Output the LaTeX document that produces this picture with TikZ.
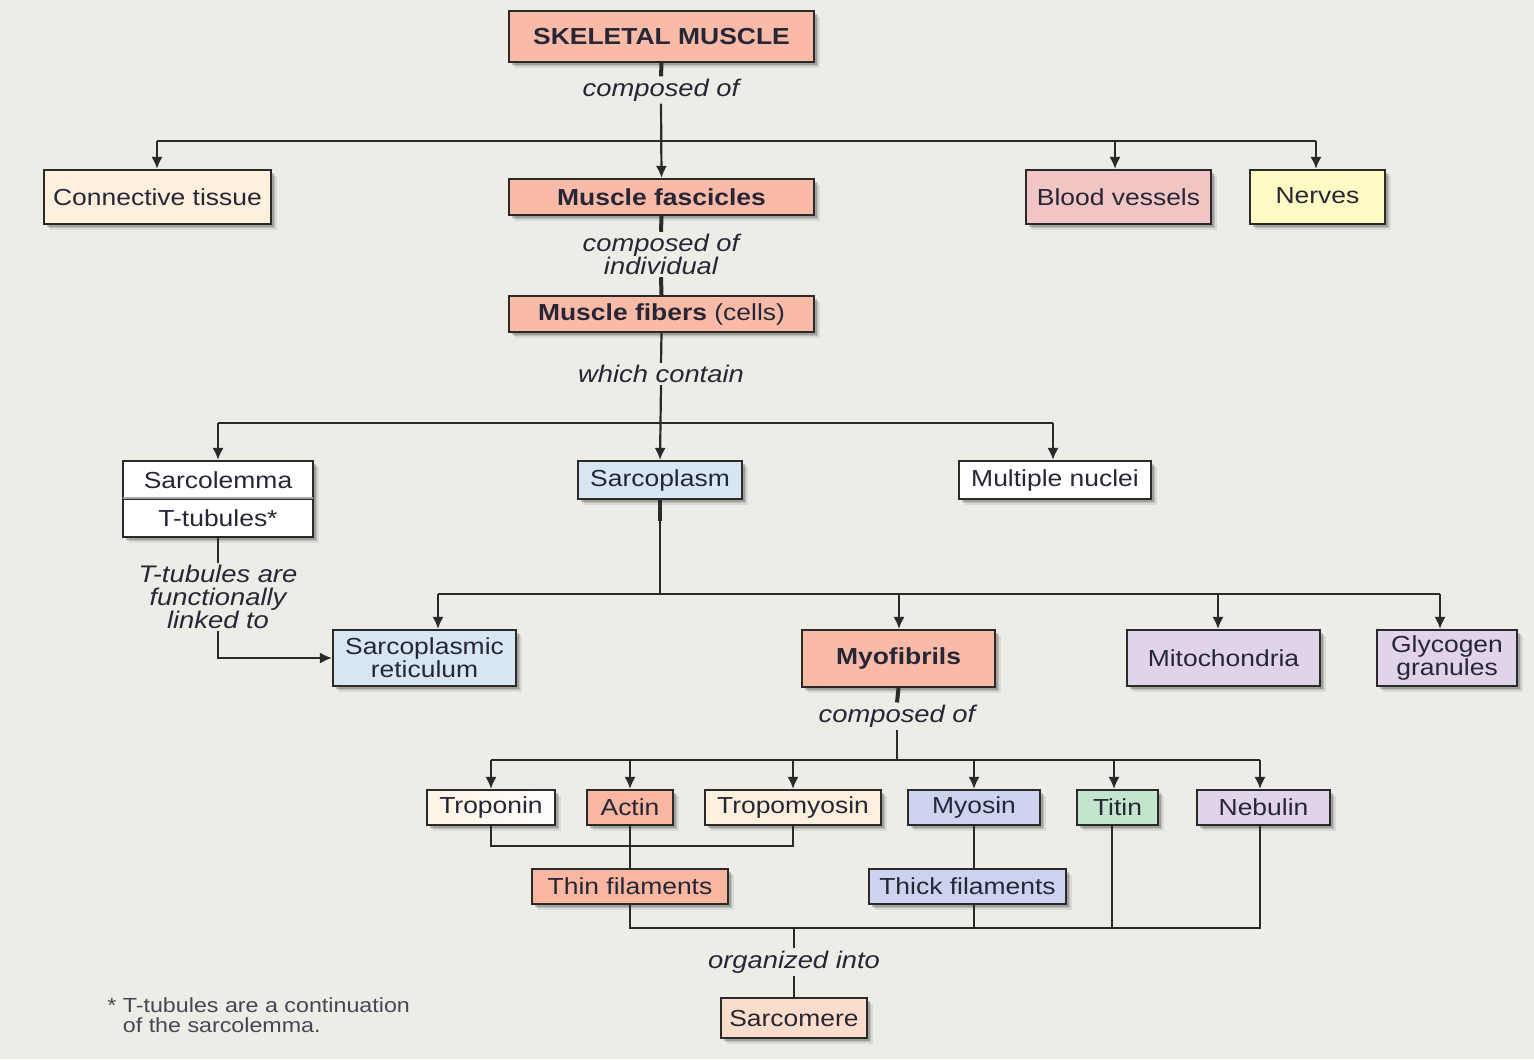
\documentclass[tikz,border=0pt]{standalone}
\usepackage{fontspec}
\setmainfont{Liberation Sans}[FakeStretch=1.14]
\usetikzlibrary{arrows.meta,shadows}
\definecolor{bg}{HTML}{EDECE7}
\definecolor{ink}{HTML}{262636}
\definecolor{edge}{HTML}{2A2A2A}
\definecolor{salmon}{HTML}{F9BBA8}
\definecolor{actinc}{HTML}{F9B6A0}
\definecolor{cream}{HTML}{FDF0DC}
\definecolor{pinkc}{HTML}{F0C5C4}
\definecolor{yellowc}{HTML}{FEFAC4}
\definecolor{bluec}{HTML}{D6E7F1}
\definecolor{lavc}{HTML}{E1D3E8}
\definecolor{peric}{HTML}{CDD3EE}
\definecolor{mintc}{HTML}{C3E5CD}
\definecolor{peachc}{HTML}{FBDDCC}
\begin{document}
\begin{tikzpicture}[x=0.5pt,y=-0.5pt,
  font=\fontsize{11.6}{11.6}\selectfont,
  box/.style={draw=edge, line width=1.1pt, inner sep=0pt, align=center, text=ink,
    drop shadow={shadow xshift=3pt, shadow yshift=-3pt, opacity=0.08, fill=black},
    drop shadow={shadow xshift=2.2pt, shadow yshift=-2.2pt, opacity=0.12, fill=black},
    drop shadow={shadow xshift=1.4pt, shadow yshift=-1.4pt, opacity=0.16, fill=black}},
  lab/.style={font=\fontsize{12}{11.5}\selectfont\itshape, inner sep=1pt, align=center, text=ink},
  conn/.style={draw=edge, line width=1.1pt},
  stub/.style={draw=edge, line width=2pt},
  arr/.style={-{Latex[length=6pt,width=5.6pt]}}]
\useasboundingbox (0,0) rectangle (1534,1059);
\fill[bg] (0,0) rectangle (1534,1059);

% top level
\node[box,fill=salmon,minimum width=152.5pt,minimum height=25.5pt] (sk) at (661.5,36.5) {\bfseries SKELETAL MUSCLE};
\node[lab] (l1) at (661,90) {composed of};
\node[box,fill=cream,minimum width=113.5pt,minimum height=27pt] (ct) at (157.5,197) {Connective tissue};
\node[box,fill=salmon,minimum width=152.5pt,minimum height=18pt] (mf) at (661.5,197) {\bfseries Muscle fascicles};
\node[box,fill=pinkc,minimum width=92.5pt,minimum height=27pt] (bv) at (1118.5,197) {Blood vessels};
\node[box,fill=yellowc,minimum width=67.5pt,minimum height=27pt] (nv) at (1317.5,197) {\raisebox{1.5pt}{Nerves}};
\node[lab] (l2) at (661,254.5) {composed of\\individual};
\node[box,fill=salmon,minimum width=152.5pt,minimum height=18pt] (fib) at (661.5,314) {{\bfseries Muscle fibers} (cells)};
\node[lab] (l3) at (661,374) {which contain};

% contents of a fiber
\node[box,fill=white,minimum width=95pt,minimum height=19pt] (sl) at (218,480) {Sarcolemma};
\node[box,fill=white,minimum width=95pt,minimum height=19pt] (tt) at (218,518) {T-tubules*};
\draw[gray!70, line width=1pt] ([xshift=0.55pt]tt.north west) -- ([xshift=-0.55pt]tt.north east);
\node[box,fill=bluec,minimum width=82pt,minimum height=19pt] (sp) at (660,480) {Sarcoplasm};
\node[box,fill=white,minimum width=96pt,minimum height=19pt] (mn) at (1055,480) {Multiple nuclei};
\node[lab] (l4) at (218,597) {T-tubules are\\functionally\\linked to};

\node[box,fill=bluec,minimum width=91.5pt,minimum height=28pt] (sr) at (424.5,658) {Sarcoplasmic\\reticulum};
\node[box,fill=salmon,minimum width=96.5pt,minimum height=28.5pt] (myo) at (898.5,658.5) {\bfseries Myofibrils};
\node[box,fill=lavc,minimum width=96.5pt,minimum height=28pt] (mit) at (1223.5,658) {Mitochondria};
\node[box,fill=lavc,minimum width=70pt,minimum height=28pt] (gly) at (1447,658) {Glycogen\\granules};
\node[lab] (l5) at (897,716) {composed of};

% proteins and filaments
\node[box,left color=cream!80,right color=white,minimum width=64pt,minimum height=17.5pt] (trn) at (491,807.5) {Troponin};
\node[box,fill=actinc,minimum width=43pt,minimum height=17.5pt] (act) at (630,807.5) {Actin};
\node[box,fill=cream,minimum width=88pt,minimum height=17.5pt] (tpm) at (793,807.5) {Tropomyosin};
\node[box,fill=peric,minimum width=66pt,minimum height=17.5pt] (mys) at (974,807.5) {Myosin};
\node[box,fill=mintc,minimum width=40.5pt,minimum height=17.5pt] (tit) at (1117.5,807.5) {Titin};
\node[box,fill=lavc,minimum width=66.5pt,minimum height=17.5pt] (neb) at (1263.5,807.5) {Nebulin};
\node[box,fill=actinc,minimum width=98pt,minimum height=17.5pt] (thin) at (630,886.5) {Thin filaments};
\node[box,fill=peric,minimum width=98.5pt,minimum height=17.5pt] (thick) at (967.5,886.5) {Thick filaments};
\node[lab] (l6) at (794,962) {organized into};
\node[box,fill=peachc,minimum width=73pt,minimum height=20pt] (sarc) at (794,1018) {Sarcomere};

\node[anchor=west, inner sep=0pt, align=left, text=ink!85, font=\fontsize{10.2}{10}\selectfont] (fn) at (107,1015)
  {* T-tubules are a continuation\\\hphantom{*\ }of the sarcolemma.};

% connectors
\coordinate (b1) at (661,141);
\coordinate (b2) at (661,423);
\coordinate (b3) at (661,594);
\coordinate (b4) at (897,760);
\coordinate (j1) at (0,846);
\coordinate (b5) at (794,928);

\draw[stub] (sk.south) -- (l1.north);
\draw[conn,arr] (l1.south) -- (mf.north);
\draw[conn] ([xshift=-0.25pt]ct.north |- b1) -- ([xshift=-0.75pt]nv.north |- b1);
\draw[conn,arr] ([xshift=-0.25pt]ct.north |- b1) -- ([xshift=-0.25pt]ct.north);
\draw[conn,arr] ([xshift=-1.75pt]bv.north |- b1) -- ([xshift=-1.75pt]bv.north);
\draw[conn,arr] ([xshift=-0.75pt]nv.north |- b1) -- ([xshift=-0.75pt]nv.north);

\draw[stub] (mf.south) -- (l2.north);
\draw[stub] (l2.south) -- (fib.north);
\draw[conn] (fib.south) -- (l3.north);
\draw[conn,arr] (l3.south) -- (sp.north);
\draw[conn] (sl.north |- b2) -- ([xshift=-1pt]mn.north |- b2);
\draw[conn,arr] (sl.north |- b2) -- (sl.north);
\draw[conn,arr] ([xshift=-1pt]mn.north |- b2) -- ([xshift=-1pt]mn.north);

\draw[conn] (tt.south) -- (l4.north);
\draw[conn,arr] (l4.south) |- (sr.west);

\draw[stub] (sp.south) -- ++(0,21);
\draw[conn] (sp.south) -- (sp.south |- b3);
\draw[conn] ([xshift=6.75pt]sr.north |- b3) -- ([xshift=-3.5pt]gly.north |- b3);
\draw[conn,arr] ([xshift=6.75pt]sr.north |- b3) -- ([xshift=6.75pt]sr.north);
\draw[conn,arr] ([xshift=0.25pt]myo.north |- b3) -- ([xshift=0.25pt]myo.north);
\draw[conn,arr] ([xshift=-2.75pt]mit.north |- b3) -- ([xshift=-2.75pt]mit.north);
\draw[conn,arr] ([xshift=-3.5pt]gly.north |- b3) -- ([xshift=-3.5pt]gly.north);

\draw[stub] (myo.south) -- (l5.north);
\draw[conn] (l5.south) -- (l5.south |- b4);
\draw[conn] (trn.north |- b4) -- ([xshift=-1.75pt]neb.north |- b4);
\foreach \n in {trn,act,tpm,mys}
  \draw[conn,arr] (\n.north |- b4) -- (\n.north);
\draw[conn,arr] ([xshift=-1.75pt]tit.north |- b4) -- ([xshift=-1.75pt]tit.north);
\draw[conn,arr] ([xshift=-1.75pt]neb.north |- b4) -- ([xshift=-1.75pt]neb.north);

\draw[conn] (trn.south) -- (trn.south |- j1) -- (tpm.south |- j1) -- (tpm.south);
\draw[conn] (act.south) -- (act.south |- thin.north);
\draw[conn] (mys.south) -- (mys.south |- thick.north);
\draw[conn] (thin.south) -- (thin.south |- b5) -- ([xshift=-1.75pt]neb.south |- b5) -- ([xshift=-1.75pt]neb.south);
\draw[conn] (mys.south |- thick.south) -- (mys.south |- b5);
\draw[conn] ([xshift=-2.75pt]tit.south) -- ([xshift=-2.75pt]tit.south |- b5);
\draw[conn] (b5) -- (l6.north);
\draw[conn] (l6.south) -- (sarc.north);
\end{tikzpicture}
\end{document}
